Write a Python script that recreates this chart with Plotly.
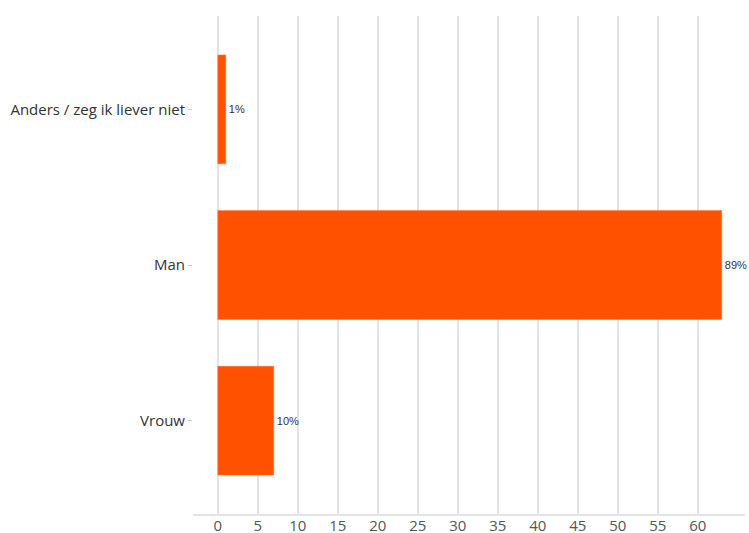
import plotly.graph_objects as go

categories = ["Vrouw", "Man", "Anders / zeg ik liever niet"]
values = [7, 63, 1]
labels = ["10%", "89%", "1%"]

fig = go.Figure(go.Bar(
    y=categories, x=values, orientation="h",
    marker=dict(color="#FF5100", line=dict(color="#FF7a40", width=0.5)),
    width=0.7,
    text=labels, textposition="outside",
    textfont=dict(family="Liberation Sans, Arial", size=11, color="#333333"),
    cliponaxis=False,
))

fig.update_layout(
    width=749, height=533,
    margin=dict(l=193, r=4, t=16, b=19),
    paper_bgcolor="white", plot_bgcolor="white",
    showlegend=False,
    font=dict(family="Open Sans", color="#333333"),
    bargap=0.3,
)
fig.update_xaxes(
    range=[-3.1, 65.9],
    tickvals=[0, 5, 10, 15, 20, 25, 30, 35, 40, 45, 50, 55, 60],
    showgrid=True, gridcolor="#e3e3e3", gridwidth=1.5,
    zeroline=False,
    showline=True, linecolor="#e3e3e3", linewidth=1.5,
    ticks="", ticklen=0, ticklabelstandoff=-3,
    tickfont=dict(family="Open Sans", size=15, color="#555555"),
    automargin=False,
    fixedrange=True,
)
fig.update_yaxes(
    range=[-0.6, 2.6],
    showgrid=False, zeroline=False, showline=False,
    ticks="outside", ticklen=4, tickcolor="#cccccc",
    tickfont=dict(family="Open Sans", size=15, color="#333333"),
    automargin=False,
    fixedrange=True,
)

fig.write_html("out.html", config={"displayModeBar": False},
               post_script="document.body.style.margin='0';")
